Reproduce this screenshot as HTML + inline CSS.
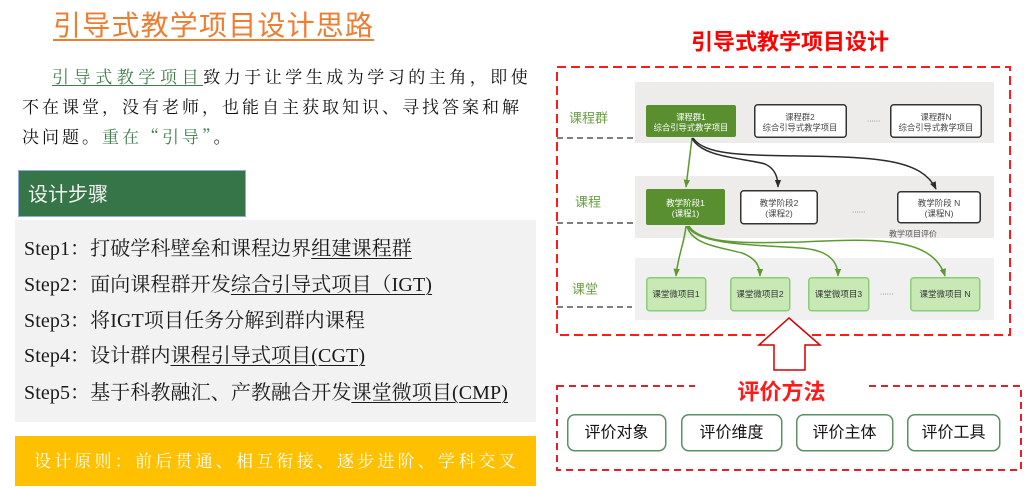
<!DOCTYPE html>
<html><head><meta charset="utf-8">
<style>
html,body{margin:0;padding:0;background:#fff;}
body{width:1032px;height:488px;position:relative;overflow:hidden;}
.a{position:absolute;white-space:nowrap;}
.p{font-family:"Liberation Serif","Noto Serif CJK SC",serif;font-size:17px;line-height:20px;color:#111;}
.g{color:#3f7d4c;}
.q{font-family:"Noto Serif CJK SC","Noto Sans CJK SC",serif;}
.s{font-family:"Liberation Serif","Noto Serif CJK SC",serif;font-size:20px;line-height:24px;color:#1a1a1a;letter-spacing:0.1px;}
.u{text-decoration:underline;text-decoration-thickness:1px;text-underline-offset:3px;}
svg text{font-family:"Liberation Sans","Noto Sans CJK SC",sans-serif;}
</style></head><body>

<!-- Left side -->
<div class="a" style="left:53px;top:10px;font-family:'Liberation Sans','Noto Sans CJK SC',sans-serif;font-size:28px;line-height:32px;color:#ed7d31;letter-spacing:1.2px;text-decoration:underline;text-decoration-thickness:2px;text-underline-offset:4px;">引导式教学项目设计思路</div>

<div class="a p" style="left:52px;top:68px;letter-spacing:4.6px;"><span class="g" style="text-decoration:underline;text-decoration-color:#3f7d4c;text-underline-offset:2px;">引导式教学项目</span><span style="letter-spacing:3.5px;">致力于让学生成为学习的主角，即使</span></div>
<div class="a p" style="left:22px;top:98px;letter-spacing:3px;">不在课堂，没有老师，也能自主获取知识、寻找答案和解</div>
<div class="a p" style="left:22px;top:126px;letter-spacing:3px;">决问题。<span class="g">重在<span class="q">“</span>引导<span class="q">”</span></span>。</div>

<div class="a" style="left:18px;top:170px;width:226px;height:45px;background:#367548;border:1px solid #8eaadb;"></div>
<div class="a" style="left:28px;top:183px;font-family:'Liberation Sans','Noto Sans CJK SC',sans-serif;font-size:20px;line-height:24px;color:#f2f2f2;">设计步骤</div>

<div class="a" style="left:15px;top:220px;width:521px;height:202px;background:#f2f2f2;"></div>
<div class="a s" style="left:24px;top:237px;">Step1：打破学科壁垒和课程边界<span class="u">组建课程群</span></div>
<div class="a s" style="left:24px;top:273px;">Step2：面向课程群开发<span class="u">综合引导式项目（IGT)</span></div>
<div class="a s" style="left:24px;top:309px;">Step3：将IGT项目任务分解到群内课程</div>
<div class="a s" style="left:24px;top:344px;">Step4：设计群内<span class="u">课程引导式项目(CGT)</span></div>
<div class="a s" style="left:24px;top:381px;">Step5：基于科教融汇、产教融合开发<span class="u">课堂微项目(CMP)</span></div>

<div class="a" style="left:15px;top:436px;width:521px;height:50px;background:#ffc000;"></div>
<div class="a p" style="left:34px;top:452px;letter-spacing:3.2px;color:#fff;">设计原则：前后贯通、相互衔接、逐步进阶、学科交叉</div>

<!-- Right side diagram -->
<svg class="a" style="left:0;top:0;" width="1032" height="488" viewBox="0 0 1032 488">
<defs>
<marker id="ag" viewBox="0 0 10 10" refX="9" refY="5" markerWidth="8" markerHeight="8" markerUnits="userSpaceOnUse" orient="auto"><path d="M0,1 L10,5 L0,9 z" fill="#5b9a2f"/></marker>
<marker id="ab" viewBox="0 0 10 10" refX="9" refY="5" markerWidth="8" markerHeight="8" markerUnits="userSpaceOnUse" orient="auto"><path d="M0,1 L10,5 L0,9 z" fill="#2b2b2b"/></marker>
</defs>

<text x="790" y="42" text-anchor="middle" dominant-baseline="central" font-size="22" font-weight="bold" fill="#ff0000">引导式教学项目设计</text>

<!-- gray bands -->
<rect x="635" y="82" width="359" height="61" fill="#eeecea"/>
<rect x="635" y="176" width="359" height="62" fill="#eeecea"/>
<rect x="635" y="258" width="359" height="62" fill="#f0f0f0"/>

<!-- outer red dashed box -->
<rect x="557" y="67" width="453" height="268" fill="none" stroke="#ff1a1a" stroke-width="2" stroke-dasharray="9,5"/>

<!-- gray dashed separators -->
<line x1="557" y1="138" x2="635" y2="138" stroke="#555" stroke-width="1.5" stroke-dasharray="6,4"/>
<line x1="557" y1="223" x2="635" y2="223" stroke="#555" stroke-width="1.5" stroke-dasharray="6,4"/>
<line x1="557" y1="307" x2="632" y2="307" stroke="#555" stroke-width="1.5" stroke-dasharray="6,4"/>

<!-- row labels -->
<text x="569" y="118" dominant-baseline="central" font-size="13" fill="#6a9f45">课程群</text>
<text x="575" y="202" dominant-baseline="central" font-size="13" fill="#6a9f45">课程</text>
<text x="572" y="289" dominant-baseline="central" font-size="13" fill="#6a9f45">课堂</text>

<!-- row 1 -->
<rect x="646" y="105" width="90" height="32" rx="2" fill="#5a8f30"/>
<text x="691" y="117" text-anchor="middle" dominant-baseline="central" font-size="8.3" fill="#fff">课程群1</text>
<text x="691" y="127.5" text-anchor="middle" dominant-baseline="central" font-size="8.3" fill="#fff">综合引导式教学项目</text>

<rect x="754.75" y="104.75" width="91.5" height="32.5" rx="3" fill="#fff" stroke="#333" stroke-width="1.5"/>
<text x="800" y="117" text-anchor="middle" dominant-baseline="central" font-size="8.3" fill="#444">课程群2</text>
<text x="800" y="127.5" text-anchor="middle" dominant-baseline="central" font-size="8.3" fill="#444">综合引导式教学项目</text>

<text x="867" y="119" dominant-baseline="central" font-size="8" fill="#777">......</text>

<rect x="890.75" y="104.75" width="90.5" height="32.5" rx="3" fill="#fff" stroke="#333" stroke-width="1.5"/>
<text x="936" y="117" text-anchor="middle" dominant-baseline="central" font-size="8.3" fill="#444">课程群N</text>
<text x="936" y="127.5" text-anchor="middle" dominant-baseline="central" font-size="8.3" fill="#444">综合引导式教学项目</text>

<!-- row 2 -->
<rect x="646" y="189" width="79" height="36" rx="2" fill="#5a8f30"/>
<text x="685.5" y="203" text-anchor="middle" dominant-baseline="central" font-size="8.5" fill="#fff">教学阶段1</text>
<text x="685.5" y="213.5" text-anchor="middle" dominant-baseline="central" font-size="8.5" fill="#fff">(课程1)</text>

<rect x="740.75" y="190.75" width="76.5" height="33" rx="3" fill="#fff" stroke="#333" stroke-width="1.5"/>
<text x="779" y="203" text-anchor="middle" dominant-baseline="central" font-size="8.5" fill="#444">教学阶段2</text>
<text x="779" y="213.5" text-anchor="middle" dominant-baseline="central" font-size="8.5" fill="#444">(课程2)</text>

<text x="852" y="210" dominant-baseline="central" font-size="8" fill="#777">......</text>

<rect x="897.75" y="191.75" width="82.5" height="31" rx="3" fill="#fff" stroke="#333" stroke-width="1.5"/>
<text x="939" y="203" text-anchor="middle" dominant-baseline="central" font-size="8.5" fill="#444">教学阶段 N</text>
<text x="939" y="213.5" text-anchor="middle" dominant-baseline="central" font-size="8.5" fill="#444">(课程N)</text>

<text x="889" y="234" dominant-baseline="central" font-size="8" fill="#555">教学项目评价</text>

<!-- row 3 -->
<g fill="#c8e8b6" stroke="#8ccc78" stroke-width="1.5">
<rect x="646.75" y="277.75" width="59" height="33" rx="3"/>
<rect x="730.75" y="277.75" width="59" height="33" rx="3"/>
<rect x="808.75" y="277.75" width="60" height="33" rx="3"/>
<rect x="910.75" y="277.75" width="69" height="33" rx="3"/>
</g>
<g font-size="8.5" fill="#333" text-anchor="middle" dominant-baseline="central">
<text x="676" y="294">课堂微项目1</text>
<text x="760" y="294">课堂微项目2</text>
<text x="838.5" y="294">课堂微项目3</text>
<text x="945" y="294">课堂微项目 N</text>
</g>
<text x="880" y="292" dominant-baseline="central" font-size="8" fill="#777">......</text>

<!-- connectors row1 -> row2 -->
<path d="M692,138 L686,187" fill="none" stroke="#5b9a2f" stroke-width="1.5" marker-end="url(#ag)"/>
<path d="M692,138 C702,158 745,158 765,164 C774,168 778,176 778,187" fill="none" stroke="#2b2b2b" stroke-width="1.5" marker-end="url(#ab)"/>
<path d="M693,138 C705,155 740,155 800,156 C880,157 922,160 936,189" fill="none" stroke="#2b2b2b" stroke-width="1.5" marker-end="url(#ab)"/>

<!-- connectors row2 -> row3 -->
<g fill="none" stroke="#5b9a2f" stroke-width="1.5">
<path d="M686,226 C684,245 678,255 676,276" marker-end="url(#ag)"/>
<path d="M687,226 C692,245 720,247 742,253 C755,258 760,265 760,276" marker-end="url(#ag)"/>
<path d="M688,226 C695,245 760,245 800,248 C830,250 838,262 838,276" marker-end="url(#ag)"/>
<path d="M689,226 C700,245 750,243 800,242 C870,239 932,235 945,276" marker-end="url(#ag)"/>
</g>

<!-- red hollow arrow -->
<polygon points="789,318 820,345 805,345 805,370 774,370 774,345 759,345" fill="#fff" stroke="#d40000" stroke-width="1.5"/>

<!-- evaluation box -->
<rect x="557" y="386" width="464" height="84" fill="none" stroke="#e0202a" stroke-width="2" stroke-dasharray="7,5"/>
<rect x="695" y="376" width="172" height="26" fill="#fff"/>
<text x="781.5" y="392" text-anchor="middle" dominant-baseline="central" font-size="22" font-weight="bold" fill="#ff1a1a">评价方法</text>

<g fill="#fff" stroke="#5b8f66" stroke-width="1.5">
<rect x="567.75" y="414.75" width="98" height="36" rx="7"/>
<rect x="681.75" y="414.75" width="100" height="36" rx="7"/>
<rect x="796.75" y="414.75" width="96" height="36" rx="7"/>
<rect x="907.75" y="414.75" width="92" height="36" rx="7"/>
</g>
<g font-size="16" fill="#111" text-anchor="middle" dominant-baseline="central">
<text x="616.5" y="433">评价对象</text>
<text x="731.5" y="433">评价维度</text>
<text x="844.5" y="433">评价主体</text>
<text x="953.5" y="433">评价工具</text>
</g>
</svg>
</body></html>
